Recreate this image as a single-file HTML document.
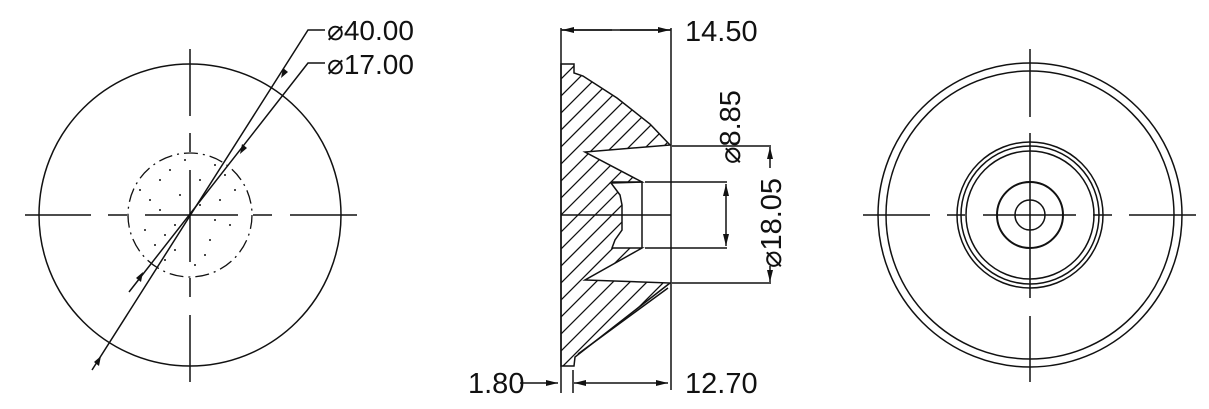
<!DOCTYPE html>
<html><head><style>html,body{margin:0;background:#fff;overflow:hidden;width:1209px;height:409px}svg{display:block}text{font-family:"Liberation Sans",sans-serif;fill:#111}</style></head>
<body>
<svg width="1209" height="409" viewBox="0 0 1209 409" xmlns="http://www.w3.org/2000/svg">
<defs>
<marker id="a" markerWidth="12" markerHeight="6" refX="12" refY="3" orient="auto" markerUnits="userSpaceOnUse"><path d="M0,0 L12,3 L0,6z" fill="#111"/></marker>
<clipPath id="c"><path d="M561,64H574V73L583,76L617,98L650,124L670,145L585,152L642,182L611,183L620,195L622,205L622,230L615,240L612,248H642L585,280L670,283L575,357L574,366H561Z"/></clipPath>
</defs>
<g stroke="#111" stroke-width="1.5" fill="none">
<circle cx="190" cy="215" r="151"/>
<circle cx="190" cy="215" r="62" stroke-dasharray="14,5,2,5" stroke-width="1.3"/>
<path d="M25,215H91M108,215H127M145,215H238M253,215H272M290,215H357M190,49V116M190,133V152M190,170V262M190,278V297M190,315V382"/>
<path d="M92,370L308,30H325"/>
<path d="M129,292L308,63H325"/>
</g>
<g fill="#111">
<path d="M281,78l2,-10l5,4z"/>
<path d="M101,356l-2,10l-5,-4z"/>
<path d="M240,154l2,-10l5,4z"/>
<path d="M143,272l-2,10l-5,-4z"/>
<circle cx="160" cy="180" r="1"/><circle cx="170" cy="170" r="1"/><circle cx="150" cy="200" r="1"/><circle cx="210" cy="240" r="1"/><circle cx="220" cy="200" r="1"/><circle cx="175" cy="250" r="1"/><circle cx="200" cy="180" r="1"/><circle cx="145" cy="230" r="1"/><circle cx="230" cy="225" r="1"/><circle cx="185" cy="160" r="1"/><circle cx="165" cy="260" r="1"/><circle cx="215" cy="165" r="1"/><circle cx="155" cy="245" r="1"/><circle cx="235" cy="190" r="1"/><circle cx="195" cy="265" r="1"/><circle cx="180" cy="195" r="1"/>
<circle cx="140" cy="190" r="1"/><circle cx="205" cy="255" r="1"/><circle cx="225" cy="175" r="1"/><circle cx="165" cy="235" r="1"/><circle cx="175" cy="225" r="1"/><circle cx="200" cy="205" r="1"/><circle cx="160" cy="210" r="1"/><circle cx="215" cy="220" r="1"/>
</g>
<text x="327" y="40" font-size="28">⌀40.00</text>
<text x="327" y="74" font-size="28">⌀17.00</text>
<!-- middle view -->
<g stroke="#111" stroke-width="1.3" clip-path="url(#c)">
<path d="M400,240L800,-160M400,257L800,-143M400,274L800,-126M400,291L800,-109M400,308L800,-92M400,325L800,-75M400,342L800,-58M400,359L800,-41M400,376L800,-24M400,393L800,-7M400,410L800,10M400,427L800,27M400,444L800,44M400,461L800,61M400,478L800,78M400,495L800,95M400,512L800,112M400,529L800,129M400,546L800,146M400,563L800,163M400,580L800,180M400,597L800,197M400,614L800,214M400,631L800,231M400,648L800,248M400,665L800,265M400,682L800,282M400,699L800,299M400,716L800,316M400,733L800,333M400,750L800,350M400,767L800,367M400,784L800,384M400,801L800,401M400,818L800,418M400,835L800,435"/>
</g>
<g stroke="#111" stroke-width="1.5" fill="none">
<path d="M561,28V393M671,28V390M561,30H671"/>
<path d="M561,64H574V73L583,76L617,98L650,124L670,145L585,152L642,182L611,183L620,195L622,205L622,230L615,240L612,248H642L585,280L670,283L575,357L574,366H561Z"/>
<path d="M612,182H642V248M561,215H671M668,288L578,354"/>
<path d="M672,146H771M645,182H727M645,248H727M672,283H771"/>
<path d="M573,370V393"/>
</g>
<g stroke="#111" stroke-width="1.5" fill="none">
<path d="M612,30H562" marker-end="url(#a)"/><path d="M620,30H670" marker-end="url(#a)"/>
<path d="M726,215V184" marker-end="url(#a)"/><path d="M726,215V246" marker-end="url(#a)"/>
<path d="M770,168V147" marker-end="url(#a)"/><path d="M770,266V282" marker-end="url(#a)"/>
<path d="M620,383H574" marker-end="url(#a)"/><path d="M620,383H668" marker-end="url(#a)"/>
<path d="M520,383H558" marker-end="url(#a)"/>
</g>
<text x="685" y="41" font-size="29">14.50</text>
<text x="685" y="393" font-size="29">12.70</text>
<text x="468" y="393" font-size="29">1.80</text>
<text font-size="29" transform="translate(740,164) rotate(-90)">⌀8.85</text>
<text font-size="29" transform="translate(781,268) rotate(-90)">⌀18.05</text>
<!-- right view -->
<g stroke="#111" stroke-width="1.5" fill="none">
<circle cx="1030" cy="215" r="152"/><circle cx="1030" cy="215" r="144"/>
<circle cx="1030" cy="215" r="73"/><circle cx="1030" cy="215" r="69"/><circle cx="1030" cy="215" r="64"/>
<circle cx="1030" cy="215" r="33" stroke-width="2"/><circle cx="1030" cy="215" r="15"/>
<path d="M863,215H930M947,215H965M983,215H1076M1093,215H1112M1129,215H1196M1030,49V117M1030,133V298M1030,316V382"/>
</g>
</svg>
</body></html>
